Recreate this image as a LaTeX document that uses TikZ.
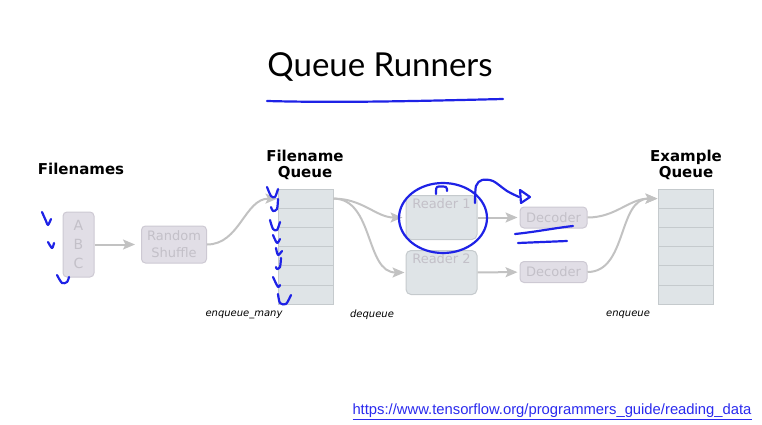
\documentclass[tikz,border=0pt]{standalone}
\usepackage{fontspec}
\setmainfont{DejaVu Sans}
\newfontfamily\titlefont{Lato}
\newfontfamily\linkfont{Liberation Sans}
\usetikzlibrary{arrows.meta,positioning}

\definecolor{lilacfill}{HTML}{E1DEE6}
\definecolor{lilacline}{HTML}{CDC9D3}
\definecolor{slatefill}{HTML}{DFE4E7}
\definecolor{slateline}{HTML}{C5CACD}
\definecolor{boxtext}{HTML}{C3C0C8}
\definecolor{flowgrey}{HTML}{C2C2C2}
\definecolor{ink}{HTML}{1E22E6}
\definecolor{linkblue}{HTML}{2A2AEE}

\tikzset{
  lilacbox/.style={draw=lilacline,fill=lilacfill,line width=1pt,rounded corners=4pt,
    text=boxtext,font=\fontsize{13}{17}\selectfont,align=center,inner sep=0pt},
  readerbox/.style={draw=slateline,fill=slatefill,line width=1pt,rounded corners=5pt,
    minimum width=71pt,minimum height=44pt,inner sep=0pt},
  readertext/.style={text=boxtext,font=\fontsize{13}{15}\selectfont,inner sep=1pt,anchor=north},
  qcell/.style={draw=slateline,fill=slatefill,line width=1pt,minimum width=55pt,
    minimum height=19.2pt,inner sep=0pt},
  flow/.style={draw=flowgrey,line width=2pt,-{Stealth[length=12pt,width=10pt,inset=2.5pt]}},
  heading/.style={font=\fontsize{15}{16}\selectfont\bfseries,align=center},
  oplabel/.style={font=\fontsize{10}{12}\selectfont\itshape},
  inkstroke/.style={draw=ink,line width=2.2pt,line cap=round,line join=round}
}

\begin{document}
\begin{tikzpicture}[x=1pt,y=-1pt]
\useasboundingbox (0,0) rectangle (762,425);

% title
\node[font=\titlefont\fontsize{33}{36}\selectfont,anchor=base] (title) at (380,77) {Queue Runners};

% headings
\node[heading] (fnames) at (81,169) {Filenames};
\node[heading] (fqhead) at (305,165) {Filename\\Queue};
\node[heading] (eqhead) at (686,165) {Example\\Queue};

% boxes
\node[lilacbox,minimum width=31pt,minimum height=65pt,font=\fontsize{14}{19}\selectfont] (abc) at (78.5,244.5) {A\\B\\C};
\node[lilacbox,minimum width=65pt,minimum height=37pt] (rs) at (174,244.5) {Random\\Shuffle};
\foreach \i in {1,...,6} {
  \node[qcell] (fq\i) at (305.5,{179.4+19.2*\i}) {};
  \node[qcell] (eq\i) at (685.5,{179.4+19.2*\i}) {};
}
\node[readerbox] (r1) at (441.5,217.5) {};
\node[readerbox] (r2) at (441.5,272.5) {};
\node[readertext] (r1txt) at ([yshift=-2pt]r1.north) {Reader 1};
\node[readertext] (r2txt) at ([yshift=-2pt]r2.north) {Reader 2};
\node[lilacbox,minimum width=67pt,minimum height=21pt] (d1) at (553.5,217.5) {Decoder};
\node[lilacbox,minimum width=67pt,minimum height=21pt] (d2) at (553.5,272) {Decoder};

% connectors
\draw[flow,shorten >=6pt] (abc) -- (rs);
\draw[flow] (rs.east) to[out=0,in=180] (fq1.west);
\draw[flow,shorten >=3pt] (fq1.east) to[out=0,in=180] (r1.west);
\draw[flow,shorten >=1pt] (fq1.east) to[out=0,in=180] (r2.west);
\draw[flow,shorten >=2pt] (r1) -- (d1);
\draw[flow,shorten >=2pt] (r2) -- (d2);
\draw[flow] (d1.east) to[out=0,in=180] (eq1.west);
\draw[flow] (d2.east) to[out=0,in=180] (eq1.west);

% operation labels
\node[oplabel] (enqmany) at (244,315) {enqueue\_many};
\node[oplabel] (deq) at (372,315) {dequeue};
\node[oplabel] (enq) at (628,315) {enqueue};

% source link
\node[font=\linkfont\fontsize{14.8}{17}\selectfont,text=linkblue] (link) at (552,412)
  {\underline{https://www.tensorflow.org/programmers\_guide/reading\_data}};

% hand-drawn marks
\draw[inkstroke] (267,101) .. controls (340,103) and (420,101) .. (503,99);
\draw[inkstroke] plot[smooth] coordinates {(42,212) (46,221) (48,225) (51,219)};
\draw[inkstroke] plot[smooth] coordinates {(48,242) (52,248) (54,243)};
\draw[inkstroke] plot[smooth] coordinates {(57,275) (62,283) (67,282) (69,277)};
\draw[inkstroke] plot[smooth] coordinates {(267,187) (271,196) (275,197) (278,189)};
\draw[inkstroke] plot[smooth] coordinates {(278,199) (277,209) (273,211) (271,207)};
\draw[inkstroke] plot[smooth] coordinates {(270,220) (273,229) (277,230) (280,222)};
\draw[inkstroke] plot[smooth] coordinates {(273,235) (277,243) (280,239)};
\draw[inkstroke] plot[smooth] coordinates {(276,248) (278,255) (282,251)};
\draw[inkstroke] plot[smooth] coordinates {(281,258) (280,267) (277,269) (276,267)};
\draw[inkstroke] plot[smooth] coordinates {(273,277) (278,287) (280,285)};
\draw[inkstroke] plot[smooth] coordinates {(278,294) (280,303) (286,304) (291,295)};
\draw[inkstroke] (443,218) ellipse [x radius=44,y radius=35];
\draw[inkstroke] plot[smooth] coordinates {(436,194) (437,187) (446,187) (447,191)};
\draw[inkstroke] plot[smooth] coordinates {(475,203) (476,186) (482,180) (493,181) (507,191) (519,197)};
\draw[inkstroke] (520,190) -- (530,197) -- (521,203) -- cycle;
\draw[inkstroke] (515,234) .. controls (535,232) and (555,228) .. (573,226);
\draw[inkstroke] (518,243) -- (567,241);
\end{tikzpicture}
\end{document}
